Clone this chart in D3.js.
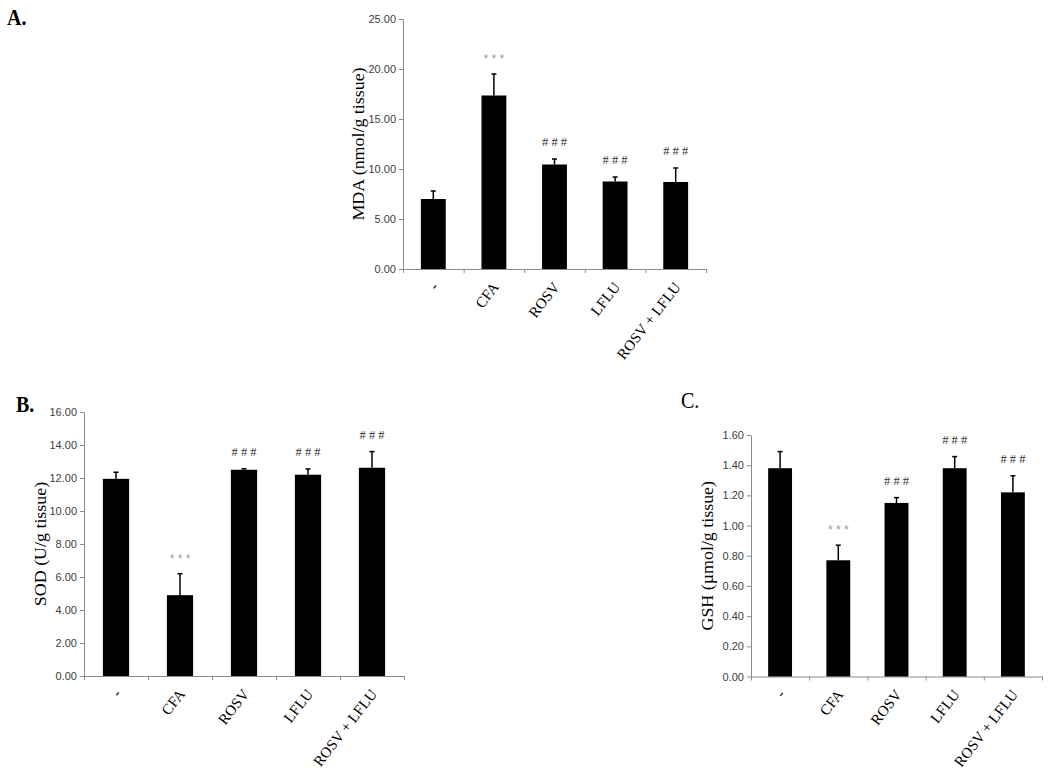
<!DOCTYPE html>
<html>
<head>
<meta charset="utf-8">
<script src="https://cdn.jsdelivr.net/npm/d3@7"></script>
<style>
  body { margin: 0; background: #fff; }
  svg { display: block; }
</style>
</head>
<body>
<svg id="chart" width="1050" height="776"></svg>
<script>
const categories = ["-", "CFA", "ROSV", "LFLU", "ROSV + LFLU"];

const mdaValues = [7.0, 17.35, 10.45, 8.75, 8.7];
const mdaErrors = [0.8, 2.15, 0.55, 0.45, 1.4];
const mdaTicks = [0, 5, 10, 15, 20, 25];

const sodValues = [11.95, 4.9, 12.5, 12.2, 12.62];
const sodErrors = [0.4, 1.3, 0.06, 0.35, 0.98];
const sodTicks = [0, 2, 4, 6, 8, 10, 12, 14, 16];

const gshValues = [1.38, 0.77, 1.15, 1.38, 1.22];
const gshErrors = [0.11, 0.1, 0.035, 0.077, 0.11];
const gshTicks = [0, 0.2, 0.4, 0.6, 0.8, 1.0, 1.2, 1.4, 1.6];

const marks = ["", "***", "###", "###", "###"];

const svg = d3.select("#chart");
const fmt = d3.format(".2f");
const axisColor = "#8c8c8c";
const serif = "'Liberation Serif', 'Times New Roman', serif";
const sans = "'Liberation Sans', Arial, sans-serif";

function drawPanel(p) {
  const g = svg.append("g");

  const x = d3.scaleBand()
    .domain(categories)
    .range([p.left, p.right])
    .paddingInner(0.59)
    .paddingOuter(0.295);

  const xEdge = d3.scaleLinear()
    .domain([0, categories.length])
    .range([p.left, p.right]);

  const y = d3.scaleLinear()
    .domain([0, d3.max(p.ticks)])
    .range([p.bottom, p.top]);

  // y axis
  const ya = g.append("g")
    .attr("transform", "translate(" + p.left + ",0)")
    .call(d3.axisLeft(y).tickValues(p.ticks).tickFormat(fmt).tickSize(4).tickSizeOuter(0));
  ya.select(".domain").attr("stroke", axisColor);
  ya.selectAll(".tick line").attr("stroke", axisColor);
  ya.selectAll(".tick text")
    .attr("x", -7)
    .style("font-family", sans)
    .style("font-size", "11px")
    .attr("fill", "#404040");

  // x axis, ticks between the categories
  const xt = g.append("g")
    .attr("transform", "translate(0," + p.bottom + ")")
    .call(d3.axisBottom(xEdge).tickValues(d3.range(categories.length + 1)).tickFormat("").tickSize(4).tickSizeOuter(0));
  xt.select(".domain").attr("stroke", axisColor);
  xt.selectAll(".tick line").attr("stroke", axisColor);

  // category labels
  const xl = g.append("g")
    .attr("transform", "translate(0," + p.bottom + ")")
    .call(d3.axisBottom(x).tickSize(0));
  xl.select(".domain").remove();
  xl.selectAll(".tick text")
    .attr("x", 0).attr("y", 0).attr("dy", "0.66em")
    .attr("transform", "translate(-2,12) rotate(-52)")
    .style("text-anchor", "end")
    .style("font-family", serif)
    .style("font-size", "15px")
    .attr("fill", "#000");

  // bars
  g.selectAll("rect.bar")
    .data(p.values)
    .enter()
    .append("rect")
    .attr("class", "bar")
    .attr("x", (d, i) => x(categories[i]))
    .attr("y", d => y(d))
    .attr("width", x.bandwidth())
    .attr("height", d => p.bottom - y(d))
    .attr("fill", "#000");

  // error bars (upper only)
  const cx = i => x(categories[i]) + x.bandwidth() / 2;
  const eb = g.selectAll("g.err")
    .data(p.values)
    .enter()
    .append("g")
    .attr("class", "err");
  eb.append("line")
    .attr("x1", (d, i) => cx(i))
    .attr("x2", (d, i) => cx(i))
    .attr("y1", d => y(d))
    .attr("y2", (d, i) => y(d + p.errors[i]))
    .attr("stroke", "#000").attr("stroke-width", 1.5);
  eb.append("line")
    .attr("x1", (d, i) => cx(i) - 2.5)
    .attr("x2", (d, i) => cx(i) + 2.5)
    .attr("y1", (d, i) => y(d + p.errors[i]))
    .attr("y2", (d, i) => y(d + p.errors[i]))
    .attr("stroke", "#000").attr("stroke-width", 1.5);

  // significance marks
  g.selectAll("text.mark")
    .data(p.values)
    .enter()
    .append("text")
    .attr("class", "mark")
    .attr("x", (d, i) => cx(i))
    .attr("y", (d, i) => y(d + p.errors[i]) - (marks[i] === "***" ? 11 : 13))
    .attr("text-anchor", "middle")
    .style("font-family", (d, i) => marks[i] === "***" ? sans : serif)
    .style("font-size", (d, i) => marks[i] === "***" ? "12px" : "12.5px")
    .attr("fill", (d, i) => marks[i] === "***" ? "#9a9a9a" : "#333")
    .text((d, i) => marks[i].split("").join(" "));

  // y title
  g.append("text")
    .attr("transform", "translate(" + p.titleX + "," + ((p.top + p.bottom) / 2) + ") scale(1,1.12) rotate(-90)")
    .attr("text-anchor", "middle")
    .attr("dy", "0.35em")
    .style("font-family", serif)
    .style("font-size", "16px")
    .text(p.title);

  // panel label
  g.append("text")
    .attr("transform", "translate(" + p.labelX + "," + p.labelY + ") scale(1,1.15)")
    .style("font-family", serif)
    .style("font-size", "20px")
    .style("font-weight", p.labelBold ? "bold" : "normal")
    .text(p.label);
}

drawPanel({
  values: mdaValues, errors: mdaErrors, ticks: mdaTicks,
  left: 403, right: 706, top: 19, bottom: 269,
  title: "MDA (nmol/g tissue)", titleX: 358,
  label: "A.", labelX: 7, labelY: 25, labelBold: true
});

drawPanel({
  values: sodValues, errors: sodErrors, ticks: sodTicks,
  left: 84, right: 404, top: 412, bottom: 676,
  title: "SOD (U/g tissue)", titleX: 40,
  label: "B.", labelX: 16, labelY: 412, labelBold: true
});

drawPanel({
  values: gshValues, errors: gshErrors, ticks: gshTicks,
  left: 751, right: 1042, top: 435, bottom: 676.5,
  title: "GSH (µmol/g tissue)", titleX: 707,
  label: "C.", labelX: 681, labelY: 408, labelBold: false
});
</script>
</body>
</html>
